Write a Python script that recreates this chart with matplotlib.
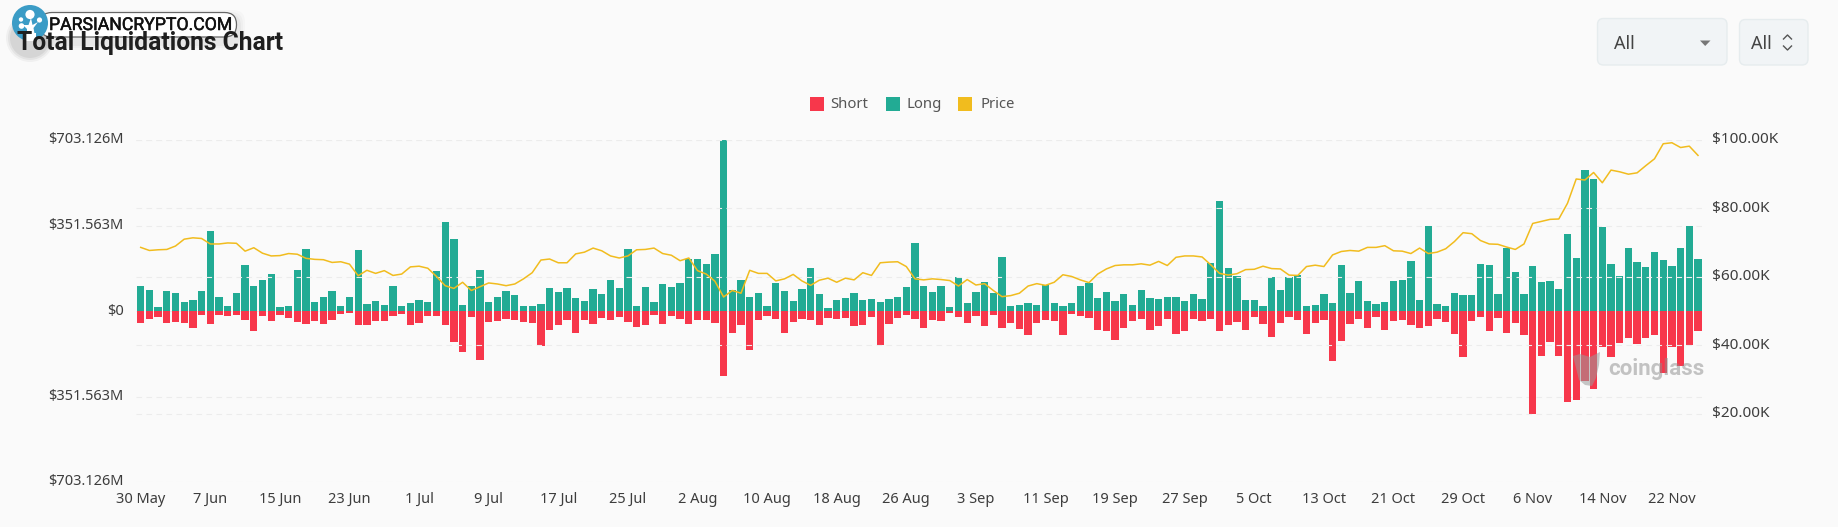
import matplotlib
matplotlib.use("Agg")
import matplotlib.pyplot as plt
import matplotlib.patheffects as pe
from matplotlib.patches import FancyBboxPatch, Circle, Polygon, Rectangle
from matplotlib.transforms import ScaledTranslation
import numpy as np
import pandas as pd

start_date = "2024-05-30"
long_liq = [
103,85,16,81,75,38,44,81,329,56,
21,73,188,103,127,152,16,19,167,255,
36,57,82,21,57,252,27,42,26,101,
22,31,47,37,164,368,297,25,104,167,
36,57,84,67,19,22,27,96,78,96,
55,40,92,71,129,96,256,21,99,37,
110,99,114,215,215,193,233,702,85,126,
56,74,19,116,84,42,90,178,71,12,
44,52,75,44,51,37,51,56,97,281,
101,79,103,16,140,31,78,119,73,222,
21,25,31,26,105,31,22,31,103,115,
52,78,40,70,25,85,55,48,57,59,
40,68,48,198,452,178,144,44,44,21,
140,86,140,148,21,25,68,34,188,74,
123,40,27,37,123,129,204,45,348,29,
21,73,64,67,194,188,70,260,162,70,
185,120,125,92,315,219,579,541,345,192,
145,261,201,181,244,209,183,257,350,215]
short_liq = [
48,33,25,48,47,49,70,16,52,16,
19,18,36,81,21,40,16,30,45,52,
42,52,36,12,7,59,56,42,40,21,
11,59,48,21,19,59,127,168,26,201,
44,42,33,37,44,51,144,78,57,37,
90,36,55,29,37,26,47,64,56,15,
53,21,31,52,36,36,49,266,90,57,
159,37,22,34,92,47,33,37,57,30,
31,29,63,57,26,141,52,27,16,33,
68,37,40,10,25,48,21,63,18,68,
51,74,97,49,38,42,100,12,21,30,
78,82,119,70,40,31,79,62,33,93,
81,33,42,33,82,59,47,77,25,53,
108,51,25,38,94,51,36,204,122,55,
31,70,26,79,42,37,57,68,62,34,
44,94,190,40,26,82,30,89,48,99,
424,186,129,186,375,366,287,322,146,189,
130,112,134,110,100,253,148,225,140,84]
price_k = [
68.6,67.7,67.9,68.0,69.0,71.0,71.4,71.2,69.6,69.6,
69.9,69.8,67.5,68.5,66.9,66.1,66.2,66.8,66.6,65.4,
65.1,65.0,64.2,64.4,63.7,60.3,61.9,61.0,61.8,60.4,
60.8,62.9,63.1,62.5,60.1,57.4,56.6,58.4,56.0,57.1,
58.2,57.9,57.4,57.9,59.4,61.2,64.9,65.2,64.1,64.1,
66.7,67.2,68.4,67.6,66.1,65.5,66.1,67.9,68.0,68.4,
66.8,66.3,64.7,65.5,61.8,60.8,58.7,54.1,56.0,55.2,
61.9,61.0,61.0,58.8,59.4,60.7,58.8,57.5,59.0,59.6,
58.4,59.6,59.1,61.2,60.4,64.1,64.3,64.4,63.0,59.4,
59.1,59.4,59.2,58.9,57.3,59.2,57.6,58.0,56.0,54.2,
54.5,55.2,57.3,58.0,57.5,58.4,60.6,60.1,59.1,58.3,
60.8,62.3,63.3,63.5,63.5,63.8,63.4,64.5,63.3,65.7,
66.1,66.1,65.8,63.5,61.0,60.5,60.9,62.1,62.2,63.1,
62.4,62.3,60.5,60.4,63.0,63.4,63.0,66.4,67.4,67.7,
67.5,68.6,68.6,69.1,67.6,67.5,66.8,68.4,66.8,67.2,
68.2,70.3,72.9,72.6,70.6,69.6,69.5,68.7,68.0,69.6,
75.6,76.2,76.8,76.9,81.5,88.6,88.3,90.5,87.5,91.2,
90.7,90.0,90.4,92.5,94.5,98.9,99.2,97.8,98.2,95.5]
left_ticks = [-703.126, -351.563, 0, 351.563, 703.126]
left_labels = ["$703.126M", "$351.563M", "$0", "$351.563M", "$703.126M"]
right_ticks = [20, 40, 60, 80, 100]
right_labels = ["$20.00K", "$40.00K", "$60.00K", "$80.00K", "$100.00K"]

W, H = 1838, 527
BG = "#fafafa"
GREEN, RED, GOLD = "#22ab94", "#f7374b", "#f1bc1e"
TXT = "#3d3d3d"
FONT = "Noto Sans"

n = len(long_liq)
dates = pd.date_range(start_date, periods=n)
x = np.arange(n)

fig = plt.figure(figsize=(W/100, H/100), dpi=100, facecolor=BG)
def box(l, t, r, b):
    return [l/W, 1-b/H, (r-l)/W, (b-t)/H]

ax = fig.add_axes(box(136.35, 140, 1702.35, 482), facecolor="none")
ax2 = ax.twinx()
ax2.set_facecolor("none")
ax.set_zorder(1); ax2.set_zorder(2)

ax.bar(x, long_liq, width=0.84, color=GREEN, linewidth=0, zorder=3, label="Long")
ax.bar(x, -np.array(short_liq), width=0.84, color=RED, linewidth=0, zorder=3, label="Short")
ax2.plot(x, price_k, color=GOLD, lw=1.1, solid_joinstyle="round", label="Price", zorder=4)

ax.set_xlim(-0.5, n-0.5)
ax.set_ylim(-703.126, 703.126)
ax2.set_ylim(0, 100)

ax.set_yticks(left_ticks); ax.set_yticklabels(left_labels)
ax2.set_yticks(right_ticks); ax2.set_yticklabels(right_labels)
tick_pos = x[::8]
ax.set_xticks(tick_pos)
ax.set_xticklabels([f"{d.day} {d.strftime('%b')}" for d in dates[tick_pos]])
for a in (ax, ax2):
    for s in a.spines.values():
        s.set_visible(False)
    a.tick_params(length=0, labelsize=10.5, labelcolor=TXT)
    for t in a.get_yticklabels()+a.get_xticklabels():
        t.set_fontfamily(FONT)
ax.tick_params(axis="y", pad=9)
ax2.tick_params(axis="y", pad=7, labelsize=11)
ax.tick_params(axis="x", pad=7)
shift = ScaledTranslation(0, 2/100, fig.dpi_scale_trans)
for t in ax.get_yticklabels()+ax2.get_yticklabels():
    t.set_transform(t.get_transform()+shift)
ax.set_axisbelow(True)
ax.grid(axis="y", color="#ececec", lw=0.8, ls=(0, (5, 4)), zorder=0)
ax2.grid(axis="y", color="#ececec", lw=0.8, ls=(0, (5, 4)), zorder=0)
ax2.patch.set_visible(False)

# overlay in pixel coordinates
ov = fig.add_axes([0, 0, 1, 1], facecolor="none")
ov.set_xlim(0, W); ov.set_ylim(H, 0); ov.axis("off"); ov.set_zorder(5)

# legend
for px, tx, col, lab in [(810, 830, RED, "Short"), (886, 906, GREEN, "Long"), (958, 980, GOLD, "Price")]:
    ov.add_patch(Rectangle((px, 97), 14, 14, color=col, lw=0))
    ov.text(tx, 104, lab, fontsize=10.7, color="#555555", family=FONT, va="center", ha="left")

# title
ov.text(17, 43, "Total Liquidations Chart", fontsize=17.7, fontweight="bold", family="Roboto",
        color="#1f1f1f", va="center", ha="left")

# controls
for l, t, r, b in [(1597.5, 18.5, 1727, 65), (1739.5, 19.5, 1808, 65)]:
    ov.add_patch(FancyBboxPatch((l+5, t+5), r-l-10, b-t-10, boxstyle="round,pad=5,rounding_size=6",
                                fc="#f1f4f6", ec="#e6ecee", lw=1.0))
ov.text(1614, 44, "All", fontsize=13, color="#444444", family=FONT, va="center")
ov.text(1751, 44, "All", fontsize=13, color="#444444", family=FONT, va="center")
ov.add_patch(Polygon([[1700, 40.5], [1710.5, 40.5], [1705.2, 46]], closed=True, color="#777777", lw=0))
ov.plot([1783.5, 1787.5, 1791.5], [39, 35, 39], color="#555555", lw=1.0)
ov.plot([1783.5, 1787.5, 1791.5], [46, 50, 46], color="#555555", lw=1.0)

# watermark
ov.text(1608, 369, "coinglass", fontsize=16, fontweight="bold", family="Roboto", color="#8c8c8c", alpha=0.5,
        va="center", ha="left")
ov.add_patch(Polygon([[1573, 356], [1580, 354], [1590, 357], [1600, 352], [1599, 365], [1596, 378], [1592, 386],
                      [1585, 385], [1579, 380], [1576, 368]], closed=True, color="#9a9a9a", alpha=0.55, lw=0))

# logo pill with soft shadow
for i, a_ in enumerate([0.04, 0.05, 0.06]):
    g = 6-2*i
    ov.add_patch(Circle((30, 35+3), 18+g, color="k", alpha=a_, lw=0))
    ov.add_patch(FancyBboxPatch((45, 22), 188, 16, boxstyle=f"round,pad={6+g},rounding_size=12",
                                fc="k", ec="none", alpha=a_*0.5))
ov.add_patch(FancyBboxPatch((40, 12.5), 196.5, 24.5, boxstyle="round,pad=0,rounding_size=12",
                            fc="white", ec="#666666", lw=0.9))
ov.text(49, 25, "PARSIANCRYPTO.COM", fontsize=12.7, color="#111111", family="Roboto", va="center", ha="left",
        path_effects=[pe.withStroke(linewidth=0.35, foreground="#111111")])
ov.add_patch(Circle((30, 23), 18, color="#3b9cc6", lw=0))
ov.add_patch(Polygon([[27, 36], [35, 36], [33.5, 28], [38, 22], [32.5, 25], [31, 18], [28.5, 25], [23, 25], [27, 29]],
                     closed=True, color="white", lw=0))
ov.add_patch(Rectangle((26, 33), 10, 7.5, color="white", lw=0))
ov.add_patch(Circle((30, 14.5), 4.6, color="white", lw=0))
ov.add_patch(Circle((39.5, 20), 2.6, color="white", lw=0))
ov.add_patch(Circle((21, 19.5), 2.2, color="white", lw=0))
ov.add_patch(Circle((21.5, 26), 2.8, color="white", lw=0))

fig.savefig("out.png", dpi=100, facecolor=BG)
